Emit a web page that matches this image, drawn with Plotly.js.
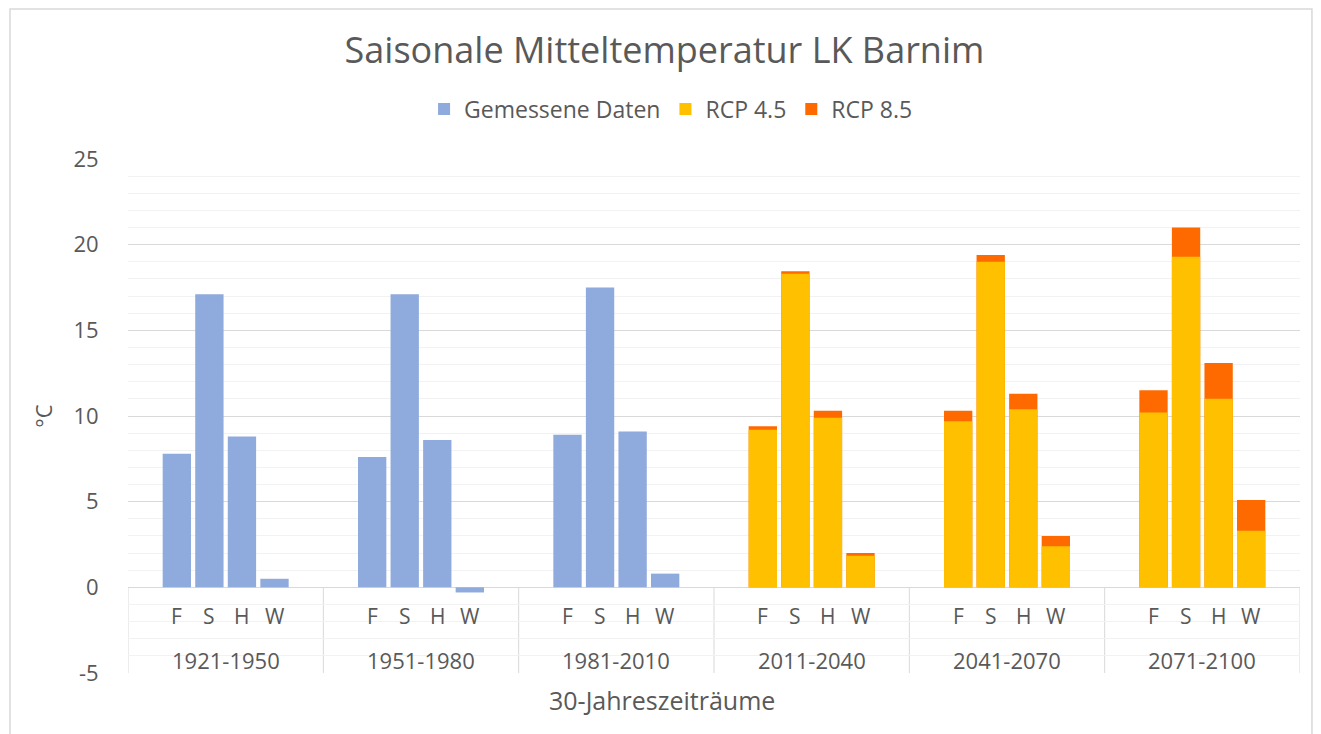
<!DOCTYPE html>
<html>
<head>
<meta charset="utf-8">
<script src="https://cdn.plot.ly/plotly-3.0.1.min.js"></script>
<style>html,body{margin:0;padding:0;background:#fff;}#chart{width:1321px;height:734px;}</style>
</head>
<body>
<div id="chart"></div>
<script>
// Data
const periods = ['1921-1950', '1951-1980', '1981-2010', '2011-2040', '2041-2070', '2071-2100'];
const seasons = ['F', 'S', 'H', 'W'];
const yTicks = [-5, 0, 5, 10, 15, 20, 25];
const yTickLabels = ['-5', '0', '5', '10', '15', '20', '25'];
// Gemessene Daten: periods 1921-1950, 1951-1980, 1981-2010 (F, S, H, W each)
const measuredPeriods = ['1921-1950', '1951-1980', '1981-2010'];
const measured = [7.8, 17.1, 8.8, 0.5, 7.6, 17.1, 8.6, -0.3, 8.9, 17.5, 9.1, 0.8];
// Projections: periods 2011-2040, 2041-2070, 2071-2100 (F, S, H, W each)
const projPeriods = ['2011-2040', '2041-2070', '2071-2100'];
const rcp45 = [9.2, 18.3, 9.9, 1.85, 9.7, 19.0, 10.4, 2.4, 10.2, 19.3, 11.0, 3.3];
const rcp85 = [9.4, 18.45, 10.3, 2.0, 10.3, 19.4, 11.3, 3.0, 11.5, 21.0, 13.1, 5.1];

const SLOTS = 6; // slots per period group (4 bars + gap)
function xpos(period, sIdx) { return periods.indexOf(period) * SLOTS + 1.5 + sIdx; }
function xsFor(pers) {
  const xs = [];
  pers.forEach(p => seasons.forEach((s, i) => xs.push(xpos(p, i))));
  return xs;
}

const txt = '#595959';
const font = 'Open Sans, sans-serif';

const traces = [
  { type: 'bar', name: 'Gemessene Daten', x: xsFor(measuredPeriods), y: measured, width: 0.87,
    marker: { color: '#8FAADC' }, legendrank: 1, hoverinfo: 'y' },
  { type: 'bar', name: 'RCP 8.5', x: xsFor(projPeriods), y: rcp85, width: 0.87,
    marker: { color: '#FF6A00' }, legendrank: 3, hoverinfo: 'y' },
  { type: 'bar', name: 'RCP 4.5', x: xsFor(projPeriods), y: rcp45, width: 0.87,
    marker: { color: '#FFC000' }, legendrank: 2, hoverinfo: 'y' }
];

const annotations = [];
const shapes = [];
periods.forEach((p, g) => {
  seasons.forEach((s, i) => {
    annotations.push({ x: xpos(p, i), y: -1.7, xref: 'x', yref: 'y', text: s, showarrow: false,
      font: { family: font, size: 21, color: txt }, xanchor: 'center', yanchor: 'middle' });
  });
  annotations.push({ x: g * SLOTS + SLOTS / 2, y: -4.25, xref: 'x', yref: 'y', text: p, showarrow: false,
    font: { family: font, size: 22, color: txt }, xanchor: 'center', yanchor: 'middle' });
});
// x axis title
annotations.push({ x: 0.4556, xref: 'paper', y: -0.0525, yref: 'paper', text: '30-Jahreszeiträume',
  showarrow: false, xanchor: 'center', yanchor: 'middle', font: { family: font, size: 25, color: txt } });

for (let g = 0; g <= periods.length; g++) {
  shapes.push({ type: 'line', xref: 'x', yref: 'y', x0: g * SLOTS, x1: g * SLOTS, y0: -5, y1: 0,
    line: { color: '#d9d9d9', width: 1 }, layer: 'below' });
}
// outer chart frame
shapes.push({ type: 'rect', xref: 'paper', yref: 'paper', x0: -0.1007, x1: 1.0102, y0: -0.15, y1: 1.2919,
  line: { color: '#d9d9d9', width: 1.5 }, fillcolor: 'rgba(0,0,0,0)' });

const layout = {
  width: 1321, height: 734,
  margin: { l: 128, r: 21, t: 159, b: 61 },
  paper_bgcolor: '#ffffff', plot_bgcolor: '#ffffff',
  barmode: 'overlay',
  font: { family: font, color: txt },
  title: { text: 'Saisonale Mitteltemperatur LK Barnim', font: { family: font, size: 36, color: txt },
    x: 0.503, xref: 'container', xanchor: 'center', y: 1 - 50 / 734, yref: 'container', yanchor: 'middle' },
  showlegend: true,
  legend: { orientation: 'h', xref: 'container', yref: 'container', x: 0.508, xanchor: 'center',
    y: 1 - 109 / 734, yanchor: 'middle', font: { family: font, size: 23, color: txt },
    traceorder: 'normal', itemwidth: 30 },
  xaxis: { range: [0, periods.length * SLOTS], showticklabels: false, ticks: '', showgrid: false,
    zeroline: false, showline: false, fixedrange: true },
  yaxis: { range: [-5, 25], tickmode: 'array', tickvals: yTicks, ticktext: yTickLabels,
    showgrid: true, gridcolor: '#d9d9d9', gridwidth: 1,
    zeroline: true, zerolinecolor: '#d9d9d9', zerolinewidth: 1,
    minor: { dtick: 1, showgrid: true, gridcolor: '#f2f2f2', gridwidth: 1 },
    ticks: 'outside', ticklen: 24, tickcolor: 'rgba(0,0,0,0)',
    tickfont: { family: font, size: 22, color: txt },
    title: { text: '°C', font: { family: font, size: 22, color: txt }, standoff: 14 } },
  annotations: annotations,
  shapes: shapes
};

Plotly.newPlot('chart', traces, layout, { displayModeBar: false, staticPlot: true });
</script>
</body>
</html>
